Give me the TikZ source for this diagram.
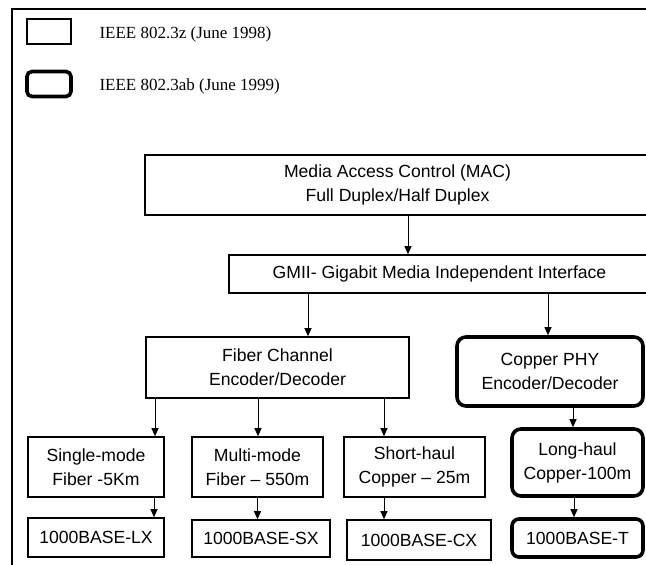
\documentclass[tikz,border=0pt]{standalone}
\usepackage{fontspec}
\setmainfont{Liberation Serif}
\newfontfamily\arialfont{Liberation Sans}
\usetikzlibrary{arrows.meta,positioning}
\tikzset{
  >={Triangle[length=8pt,width=7pt]},
  blk/.style  ={rectangle,draw,line width=1.6pt,align=center,inner sep=0pt,
                font=\arialfont\fontsize{17.6}{24}\selectfont},
  blkab/.style={blk,rounded corners=9pt,line width=3.6pt},
  link/.style ={->,line width=1pt},
}
\begin{document}
\begin{tikzpicture}[x=1pt,y=-1pt]
  \clip (0,0) rectangle (646,565);
  \fill[white] (0,0) rectangle (646,565);
  % frame
  \draw[line width=1.8pt] (12,565) -- (12,9) -- (646,9);
  % legend
  \node[blk,line width=1.4pt,minimum width=44pt,minimum height=25pt] (key1) at (49,31.5) {};
  \node[blkab,rounded corners=5pt,minimum width=44pt,minimum height=25pt] (key2) at (49,84) {};
  \node[anchor=west,font=\fontsize{17}{20}\selectfont] (key1t) at (96,34) {IEEE 802.3z (June 1998)};
  \node[anchor=west,font=\fontsize{17}{20}\selectfont] (key2t) at (96,86) {IEEE 802.3ab (June 1999)};
  % upper layers
  \node[blk,minimum width=505pt,minimum height=60pt] (mac) at (397.5,185)
        {Media Access Control (MAC)\\Full Duplex/Half Duplex};
  \node[blk,minimum width=421pt,minimum height=38pt] (gmii) at (439.5,274)
        {GMII- Gigabit Media Independent Interface};
  \node[blk,minimum width=263pt,minimum height=61pt] (fiber) at (277.5,367.5)
        {Fiber Channel\\Encoder/Decoder};
  \node[blkab,minimum width=186pt,minimum height=69pt] (copper) at (550,371.5)
        {Copper PHY\\Encoder/Decoder};
  % media
  \node[blk,minimum width=136pt,minimum height=60pt] (smf) at (96,467)
        {Single-mode\\Fiber -5Km};
  \node[blk,minimum width=131pt,minimum height=60pt] (mmf) at (257.5,467)
        {Multi-mode\\Fiber – 550m};
  \node[blk,minimum width=141pt,minimum height=60pt] (shc) at (414.5,467)
        {Short-haul\\Copper – 25m};
  \node[blkab,minimum width=131pt,minimum height=67pt] (lhc) at (577.5,462.5)
        {Long-haul\\Copper-100m};
  % standards
  \node[blk,minimum width=136pt,minimum height=39pt] (lx) at (96,537.5) {1000BASE-LX};
  \node[blk,minimum width=138pt,minimum height=37pt] (sx) at (261,538.5) {1000BASE-SX};
  \node[blk,minimum width=144pt,minimum height=40pt] (cx) at (419,540) {1000BASE-CX};
  \node[blkab,rounded corners=7pt,minimum width=131pt,minimum height=38pt] (bt) at (577.5,538) {1000BASE-T};
  % links
  \draw[link] ([xshift=10.5pt]mac.south) -- ([xshift=10.5pt]mac.south |- gmii.north);
  \draw[link] ([xshift=-131.5pt]gmii.south) -- ([xshift=-131.5pt]gmii.south |- fiber.north);
  \draw[link] ([xshift=108.5pt]gmii.south) -- ([xshift=108.5pt]gmii.south |- copper.north);
  \draw[link] ([xshift=-122.5pt]fiber.south) -- ([xshift=-122.5pt]fiber.south |- smf.north);
  \draw[link] ([xshift=-19.5pt]fiber.south) -- ([xshift=-19.5pt]fiber.south |- mmf.north);
  \draw[link] ([xshift=106.5pt]fiber.south) -- ([xshift=106.5pt]fiber.south |- shc.north);
  \draw[link] ([xshift=23pt]copper.south) -- ([xshift=23pt]copper.south |- lhc.north);
  \draw[link] ([xshift=58pt]smf.south) -- ([xshift=58pt]smf.south |- lx.north);
  \draw[link] (mmf.south) -- (mmf.south |- sx.north);
  \draw[link] ([xshift=-30.5pt]shc.south) -- ([xshift=-30.5pt]shc.south |- cx.north);
  \draw[link] ([xshift=-3.5pt]lhc.south) -- ([xshift=-3.5pt]lhc.south |- bt.north);
\end{tikzpicture}
\end{document}
